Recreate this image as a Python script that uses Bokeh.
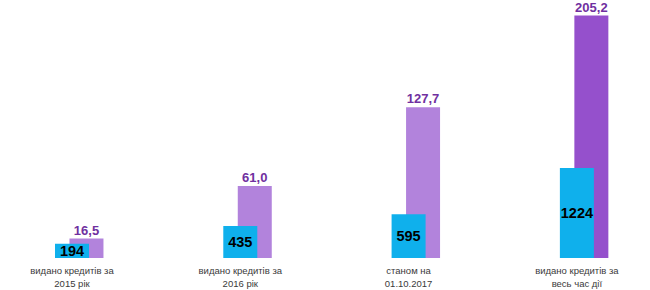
from bokeh.plotting import figure
from bokeh.models import ColumnDataSource, Range1d
from bokeh.transform import dodge
from bokeh.embed import file_html
from bokeh.resources import INLINE
from bokeh.core.properties import value

# ---- data ----
categories = [
    "видано кредитів за\n2015 рік",
    "видано кредитів за\n2016 рік",
    "станом на\n01.10.2017",
    "видано кредитів за\nвесь час дії",
]
loans_count = [194, 435, 595, 1224]
loans_sum = [16.5, 61.0, 127.7, 205.2]

# ---- styles ----
purple_colors = ["#B283DC", "#B283DC", "#B283DC", "#9550CC"]
blue_color = "#0FB0EC"
label_purple = "#7030A0"

idx = list(range(len(categories)))
src = ColumnDataSource(dict(
    x=idx,
    cat=categories,
    count=loans_count,
    count_mid=[c / 2 for c in loans_count],
    count_txt=[str(c) for c in loans_count],
    amount=loans_sum,
    amount_txt=[f"{v:.1f}".replace(".", ",") for v in loans_sum],
    pcol=purple_colors,
    zero=[0] * len(categories),
))

p = figure(width=650, height=290, output_backend="svg", toolbar_location=None,
           x_range=Range1d(-0.4248, 3.4374), y_range=Range1d(-442, 3503),
           min_border=0, min_border_left=0, min_border_right=0,
           min_border_top=0, min_border_bottom=0)
p.extra_y_ranges = {"sum": Range1d(-27.5, 218.0)}
p.axis.visible = False
p.xgrid.visible = False
p.ygrid.visible = False
p.outline_line_color = None
p.background_fill_color = "white"
p.border_fill_color = "white"

off = 0.086
bw = 0.202

# purple bars (amount, secondary scale)
p.vbar(x=dodge("x", off, range=p.x_range), top="amount", bottom=0, width=bw,
       fill_color="pcol", line_color=None, source=src, y_range_name="sum")
# blue bars (count)
p.vbar(x="x", top="count", bottom=0, width=bw, fill_color=blue_color,
       line_color=None, source=src)

# labels
p.text(x=dodge("x", off, range=p.x_range), y="amount", text="amount_txt",
       source=src, y_range_name="sum", text_align="center",
       text_baseline="bottom", y_offset=-4,
       text_font=value("Liberation Sans"), text_font_style="bold",
       text_font_size="13px", text_color=label_purple)
p.text(x="x", y="count_mid", text="count_txt", source=src,
       text_align="center", text_baseline="middle",
       text_font=value("Liberation Sans"), text_font_style="bold",
       text_font_size="14.5px", text_color="black")
p.text(x="x", y="zero", text="cat", source=src, text_align="center",
       text_baseline="top", y_offset=7, text_line_height=1.16,
       text_font=value("Liberation Sans"), text_font_size="9.5px",
       text_color="#3A3A3A")

open("out.html", "w").write(file_html(p, INLINE))
